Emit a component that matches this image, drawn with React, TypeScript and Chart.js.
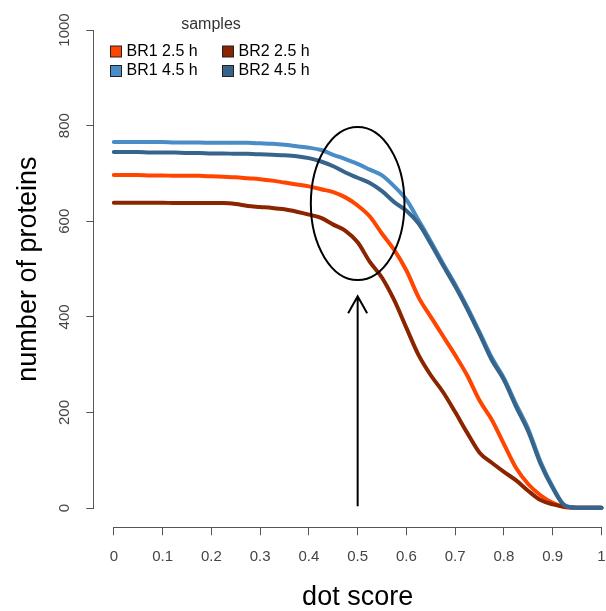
import React, { useEffect, useRef } from "react";
import { Chart, registerables } from "chart.js";

Chart.register(...registerables);

const FONT = '"Liberation Sans", Arial, Helvetica, sans-serif';

// dot score (x)
const dotScores = [
  0, 0.025, 0.05, 0.075, 0.1, 0.125, 0.15, 0.175, 0.2, 0.225, 0.25, 0.275, 0.3, 0.325, 0.35, 0.375,
  0.4, 0.425, 0.45, 0.475, 0.5, 0.525, 0.55, 0.575, 0.6, 0.625, 0.65, 0.675, 0.7, 0.725, 0.75, 0.775,
  0.8, 0.825, 0.85, 0.875, 0.9, 0.925, 0.95, 0.975, 1,
];

// number of proteins per sample
const br1_25 = [
  697, 697, 697, 696, 696, 695, 695, 695, 694, 693, 692, 690, 688, 685, 681, 677,
  673, 667, 661, 650, 633, 610, 574, 540, 497, 441, 400, 360, 320, 277, 225, 185,
  134, 84, 50, 27, 11, 2, 1, 1, 1,
];
const br2_25 = [
  639, 639, 639, 639, 639, 638, 638, 638, 638, 638, 636, 632, 630, 628, 625, 620,
  614, 607, 593, 580, 556, 515, 482, 435, 377, 320, 278, 243, 201, 157, 116, 95,
  76, 58, 36, 17, 8, 3, 1, 1, 1,
];
const br1_45 = [
  766, 766, 766, 766, 766, 765, 765, 765, 764, 764, 764, 764, 763, 762, 760, 757,
  754, 749, 739, 730, 720, 708, 696, 673, 645, 602, 558, 512, 468, 420, 368, 315,
  272, 217, 165, 97, 45, 6, 1, 1, 1,
];
const br2_45 = [
  745, 745, 745, 744, 744, 744, 743, 743, 742, 742, 741, 741, 740, 739, 738, 736,
  732, 725, 715, 702, 691, 680, 663, 640, 622, 595, 553, 508, 464, 416, 364, 310,
  268, 212, 160, 93, 42, 5, 1, 1, 1,
];

const seriesLabels = ["BR1 2.5 h", "BR2 2.5 h", "BR1 4.5 h", "BR2 4.5 h"];
const seriesColors = ["#FF4500", "#8B2500", "#4A8CC6", "#36648B"];
const seriesValues = [br1_25, br2_25, br1_45, br2_45];
const legendTitle = "samples";

const xTicks = [0, 0.1, 0.2, 0.3, 0.4, 0.5, 0.6, 0.7, 0.8, 0.9, 1];
const xTickLabels = ["0", "0.1", "0.2", "0.3", "0.4", "0.5", "0.6", "0.7", "0.8", "0.9", "1"];
const yTicks = [0, 200, 400, 600, 800, 1000];
const yTickLabels = ["0", "200", "400", "600", "800", "1000"];

const xTitle = "dot score";
const yTitle = "number of proteins";

// annotation (data coordinates)
const ellipseCenter = [0.5, 637];
const ellipseRadii = [0.096, 160];
const arrowStart = [0.5, 4];
const arrowEnd = [0.5, 443];

const rStylePlugin = {
  id: "rStyle",
  afterDraw(chart: any) {
    const ctx = chart.ctx as CanvasRenderingContext2D;
    const xs = chart.scales.x;
    const ys = chart.scales.y;
    const area = chart.chartArea;
    ctx.save();

    // axis lines (R style: spanning first to last tick)
    ctx.strokeStyle = "#555";
    ctx.lineWidth = 1;
    const by = Math.round(area.bottom) + 0.5;
    const lx = Math.round(area.left) - 0.5;
    ctx.beginPath();
    ctx.moveTo(xs.getPixelForValue(xTicks[0]), by);
    ctx.lineTo(xs.getPixelForValue(xTicks[xTicks.length - 1]), by);
    ctx.moveTo(lx, ys.getPixelForValue(yTicks[0]));
    ctx.lineTo(lx, ys.getPixelForValue(yTicks[yTicks.length - 1]));
    ctx.stroke();

    // rotated y tick labels
    ctx.fillStyle = "#444";
    ctx.font = `15px ${FONT}`;
    ctx.textAlign = "center";
    ctx.textBaseline = "middle";
    yTicks.forEach((v, i) => {
      ctx.save();
      ctx.translate(area.left - 29, ys.getPixelForValue(v));
      ctx.rotate(-Math.PI / 2);
      ctx.fillText(yTickLabels[i], 0, 0);
      ctx.restore();
    });

    // ellipse annotation
    const cx = xs.getPixelForValue(ellipseCenter[0]);
    const cy = ys.getPixelForValue(ellipseCenter[1]);
    const rx = Math.abs(xs.getPixelForValue(ellipseCenter[0] + ellipseRadii[0]) - cx);
    const ry = Math.abs(ys.getPixelForValue(ellipseCenter[1] + ellipseRadii[1]) - cy);
    ctx.strokeStyle = "#000";
    ctx.lineWidth = 2;
    ctx.beginPath();
    ctx.ellipse(cx, cy, rx, ry, 0, 0, Math.PI * 2);
    ctx.stroke();

    // arrow
    const ax0 = xs.getPixelForValue(arrowStart[0]);
    const ay0 = ys.getPixelForValue(arrowStart[1]);
    const ax1 = xs.getPixelForValue(arrowEnd[0]);
    const ay1 = ys.getPixelForValue(arrowEnd[1]);
    ctx.lineWidth = 2;
    ctx.beginPath();
    ctx.moveTo(ax0, ay0);
    ctx.lineTo(ax1, ay1);
    ctx.moveTo(ax1 - 9.5, ay1 + 17);
    ctx.lineTo(ax1, ay1);
    ctx.lineTo(ax1 + 9.5, ay1 + 17);
    ctx.stroke();

    // legend
    ctx.font = `16px ${FONT}`;
    ctx.fillStyle = "#333";
    ctx.textAlign = "center";
    ctx.textBaseline = "middle";
    ctx.fillText(legendTitle, 211, 25);
    const colX = [110.5, 222.5];
    const rowY = [51.5, 71];
    ctx.textAlign = "left";
    chart.data.datasets.forEach((ds: any, i: number) => {
      const col = i % 2;
      const row = Math.floor(i / 2);
      const bx = colX[col];
      const byy = rowY[row];
      ctx.fillStyle = ds.borderColor;
      ctx.fillRect(bx, byy - 5.5, 11, 11);
      ctx.strokeStyle = "#222";
      ctx.lineWidth = 1;
      ctx.strokeRect(bx, byy - 5.5, 11, 11);
      ctx.fillStyle = "#000";
      ctx.fillText(ds.label, bx + 16, byy);
    });

    ctx.restore();
  },
};

export default function App() {
  const canvasRef = useRef<HTMLCanvasElement | null>(null);

  useEffect(() => {
    if (!canvasRef.current) return;
    const datasets = seriesLabels.map((label, i) => ({
      label,
      data: dotScores.map((x, j) => ({ x, y: seriesValues[i][j] })),
      borderColor: seriesColors[i],
      backgroundColor: seriesColors[i],
      borderWidth: 4,
      pointRadius: 0,
      cubicInterpolationMode: "monotone" as const,
      fill: false,
      borderJoinStyle: "round" as const,
      borderCapStyle: "round" as const,
      order: seriesLabels.length - i,
    }));

    const chart = new Chart(canvasRef.current, {
      type: "line",
      data: { datasets },
      options: {
        animation: false,
        responsive: false,
        devicePixelRatio: 1,
        layout: { padding: { top: 10.9, right: 9, bottom: 0, left: 0 } },
        plugins: {
          legend: { display: false },
          tooltip: { enabled: false },
        },
        scales: {
          x: {
            type: "linear",
            min: -0.04,
            max: 1.04,
            afterBuildTicks: (s: any) => {
              s.ticks = xTicks.map((v) => ({ value: v }));
            },
            afterFit: (s: any) => {
              s.height = 611 - 527.3;
            },
            grid: {
              display: true,
              drawOnChartArea: false,
              drawTicks: true,
              tickLength: 8,
              color: "#555",
              lineWidth: 1,
            },
            border: { display: false },
            ticks: {
              padding: 13,
              color: "#444",
              font: { family: FONT, size: 15 },
              maxRotation: 0,
              minRotation: 0,
              autoSkip: false,
              callback: (_v: any, i: number) => xTickLabels[i],
            },
            title: {
              display: true,
              text: xTitle,
              color: "#000",
              font: { family: FONT, size: 27, lineHeight: 1 },
              padding: { top: 0, bottom: 0 },
            },
          },
          y: {
            type: "linear",
            min: -40,
            max: 1040,
            afterBuildTicks: (s: any) => {
              s.ticks = yTicks.map((v) => ({ value: v }));
            },
            afterFit: (s: any) => {
              s.width = 94.3;
            },
            grid: {
              display: true,
              drawOnChartArea: false,
              drawTicks: true,
              tickLength: 8,
              color: "#555",
              lineWidth: 1,
            },
            border: { display: false },
            ticks: { display: false },
            title: {
              display: true,
              text: yTitle,
              color: "#000",
              font: { family: FONT, size: 27, lineHeight: 1 },
              padding: { top: 15, bottom: 0 },
            },
          },
        },
      },
      plugins: [rStylePlugin],
    });
    return () => chart.destroy();
  }, []);

  return (
    <div>
      <canvas
        ref={canvasRef}
        width={630}
        height={611}
        style={{ position: "fixed", left: 0, top: 0, width: 630, height: 611, background: "#fff" }}
      />
    </div>
  );
}
